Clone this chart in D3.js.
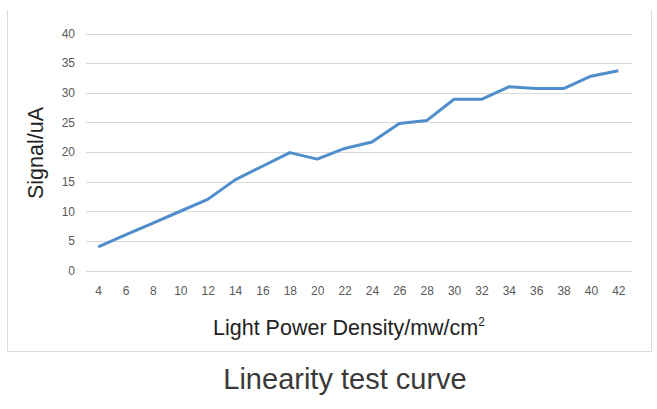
<!DOCTYPE html>
<html>
<head>
<meta charset="utf-8">
<script src="https://cdn.jsdelivr.net/npm/d3@7"></script>
<style>
  body { margin: 0; background: #fff; }
  svg { display: block; }
</style>
</head>
<body>
<svg id="chart"></svg>
<script>
// data
const power = ["4", "6", "8", "10", "12", "14", "16", "18", "20", "22",
               "24", "26", "28", "30", "32", "34", "36", "38", "40", "42"];
const signal = [4.0, 6.0, 8.0, 10.0, 12.0, 15.3, 17.6, 19.9, 18.8, 20.6,
                21.7, 24.8, 25.3, 28.9, 28.9, 31.0, 30.7, 30.7, 32.8, 33.7];
const yTicks = [0, 5, 10, 15, 20, 25, 30, 35, 40];

const width = 657;
const height = 409;

const svg = d3.select("#chart")
  .attr("width", width)
  .attr("height", height);

const x = d3.scalePoint()
  .domain(power)
  .range([84.5, 632])
  .padding(0.5);

const y = d3.scaleLinear()
  .domain([0, 40])
  .range([270.5, 33.5]);

// frame round the chart (top edge is cut off in the picture)
svg.append("path")
  .attr("d", "M7.5,10 V351.5 H651.5 V10")
  .attr("fill", "none")
  .attr("stroke", "#dcdcdc")
  .attr("stroke-width", 1);

// gridlines
svg.append("g")
  .selectAll("line")
  .data(yTicks)
  .join("line")
  .attr("x1", 86)
  .attr("x2", 632)
  .attr("y1", d => Math.round(y(d)) + 0.5)
  .attr("y2", d => Math.round(y(d)) + 0.5)
  .attr("stroke", "#d9d9d9")
  .attr("stroke-width", 1);

// y tick labels
const yAxis = d3.axisLeft(y).tickValues(yTicks).tickSize(0).tickPadding(0);
svg.append("g")
  .attr("transform", "translate(75,0)")
  .call(yAxis)
  .call(g => g.select(".domain").remove())
  .selectAll("text")
  .attr("fill", "#595959")
  .style("font", "12px 'Liberation Sans', Arial, sans-serif");

// x tick labels
const xAxis = d3.axisBottom(x).tickSize(0).tickPadding(0);
svg.append("g")
  .attr("transform", "translate(0,286)")
  .call(xAxis)
  .call(g => g.select(".domain").remove())
  .selectAll("text")
  .attr("fill", "#595959")
  .style("font", "12px 'Liberation Sans', Arial, sans-serif");

// the curve
const line = d3.line()
  .x((d, i) => x(power[i]))
  .y(d => y(d));

svg.append("path")
  .datum(signal)
  .attr("d", line)
  .attr("fill", "none")
  .attr("stroke", "#4f8dcb")
  .attr("stroke-width", 3)
  .attr("stroke-linejoin", "round");

// axis titles
svg.append("text")
  .attr("transform", "translate(43,153) rotate(-90)")
  .attr("text-anchor", "middle")
  .attr("fill", "#222")
  .style("font", "21.5px 'Liberation Sans', Arial, sans-serif")
  .text("Signal/uA");

const xt = svg.append("text")
  .attr("x", 213)
  .attr("y", 335)
  .attr("fill", "#222")
  .style("font", "21.5px 'Liberation Sans', Arial, sans-serif");
xt.append("tspan").text("Light Power Density/mw/cm");
xt.append("tspan")
  .attr("dy", -9)
  .style("font-size", "12px")
  .text("2");

// caption
svg.append("text")
  .attr("x", 345)
  .attr("y", 389)
  .attr("text-anchor", "middle")
  .attr("fill", "#3a3a3a")
  .style("font", "29px 'Liberation Sans', Arial, sans-serif")
  .text("Linearity test curve");
</script>
</body>
</html>
